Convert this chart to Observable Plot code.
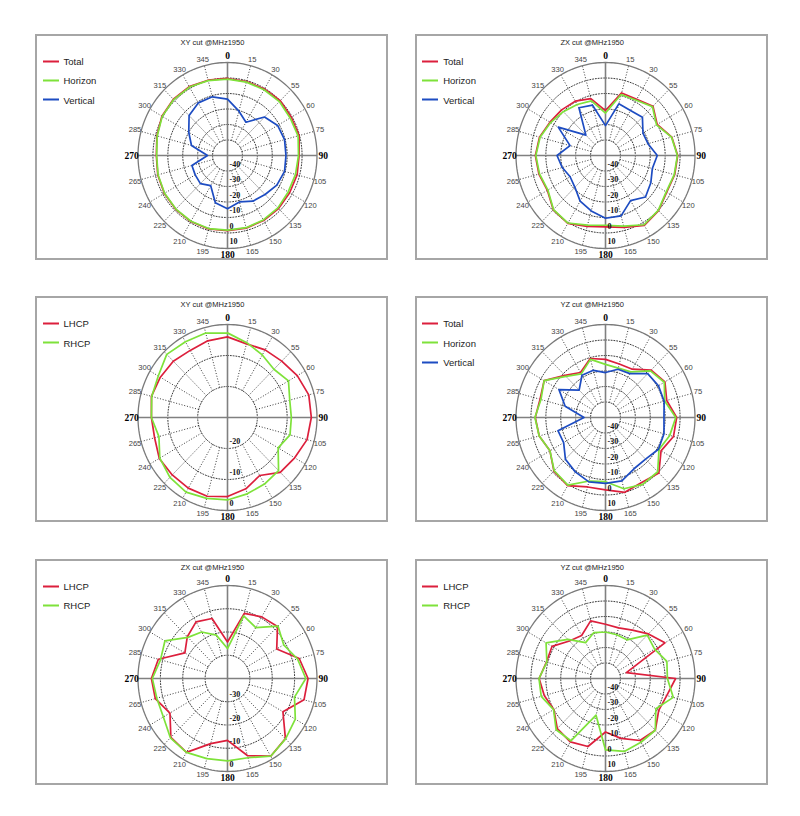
<!DOCTYPE html>
<html><head><meta charset="utf-8">
<script src="https://cdn.jsdelivr.net/npm/d3@7"></script>
<script src="https://cdn.jsdelivr.net/npm/@observablehq/plot@0.6"></script>
<style>
body{margin:0;background:#fff;}
#page{position:relative;width:800px;height:816px;font-family:"Liberation Sans",Arial,sans-serif;overflow:hidden;}
.box{position:absolute;width:353px;height:226px;box-sizing:border-box;border:2px solid #a6a6a6;}
.title{position:absolute;font-size:7.5px;color:#222;transform:translate(-50%,-50%);white-space:nowrap;}
.leg{position:absolute;font-size:9.5px;color:#222;display:flex;align-items:center;white-space:nowrap;transform:translateY(-50%);}
.leg i{display:inline-block;width:16px;height:2px;margin-right:5px;}
.plot{position:absolute;}
</style></head><body><div id="page"></div><script>
// ---- data (values in dB at every 15 degrees, 0..345) ----
const angles = [0,15,30,45,60,75,90,105,120,135,150,165,180,195,210,225,240,255,270,285,300,315,330,345];
const angleLabels = ["0","15","30","55","60","75","90","105","120","135","150","165","180","195","210","225","240","265","270","285","300","315","330","345"];

const xyTotal    = [-0.3,-0.6,-0.5,0,-0.6,-0.3,-2.0,-1.7,-1.9,-1.6,-1.6,-1.5,-1.5,-0.9,-0.8,-0.9,-1.1,-1.6,-2.3,-1.0,0.8,1.3,1.3,0.3];
const xyHorizon  = [-0.7,-1,-1,-0.8,-1.5,-1,-2.4,-2.8,-3,-2.2,-2,-1.8,-1.8,-1.2,-1,-1.1,-1.3,-1.8,-2.5,-1.2,0.5,1,1,0];
const xyVertical = [-13.6,-20.4,-25.2,-14.9,-11.2,-10.4,-10.8,-10.4,-11.8,-14.4,-16,-19,-15.7,-18.5,-27.5,-24.3,-25,-25.3,-36.6,-25,-20,-13.6,-10.8,-10.8];

const zxTotal    = [-21,-8.2,-8.2,-5,-10,-4,-1.6,-2,-2.6,0.3,2,-2,-4,-2.7,0.5,-0.5,-5,-3.8,-3,-4.2,-7,-8.4,-9.5,-12];
const zxHorizon  = [-22.6,-9.3,-8.8,-5.5,-10.5,-4.2,-1.8,-2.3,-3,0,1.6,-2.8,-5,-3.5,0.3,-0.7,-5.4,-4.2,-3.3,-4.6,-7.5,-10,-12,-13.5];
const zxVertical = [-30.7,-15.5,-16.5,-15,-21,-20.5,-15.3,-17.5,-14.9,-12.1,-16.4,-9.7,-9.5,-13,-16,-21,-22.6,-20,-17.5,-25.4,-13.4,-31.4,-14.4,-16.4];

const xyLHCP = [-4,-5.4,-4.8,-4.3,-3,-1.8,-1.9,-2.4,-4,-5,-8.4,-6.2,-4.5,-3.7,-3.7,-3.8,-3.6,-4.7,-4.5,-3.6,-4,-4.3,-5,-4.4];
const xyRHCP = [-2.7,-5,-6.7,-8,-6.4,-8.4,-8.6,-8.3,-10.4,-5.8,-5.2,-4.5,-3.4,-3,-2.2,-2.7,-3.8,-6.2,-4.5,-3.7,-3.2,-1.2,-1.8,-1.8];

const yzTotal    = [-12.5,-14.3,-14,-6.7,-4,-7.5,-2.3,-2.8,-7,0.6,-1.5,0,-3.3,-3.6,0.8,-1.1,-7,-4,-2.9,-4.6,-2.5,-11.6,-16.5,-10.6];
const yzHorizon  = [-15.7,-17,-16,-7.4,-4.5,-8.9,-2.9,-5.4,-8.6,-0.5,-0.2,-2.4,-8.6,-7.6,0.4,-1.4,-7,-4,-2.7,-5.2,-2.5,-12.5,-17.5,-11.2];
const yzVertical = [-21,-17.8,-17.3,-10,-9,-9.3,-10.8,-9.4,-9,-12,-11.8,-7.7,-7.5,-7,-9.5,-12,-17.6,-17,-35.6,-22,-14,-25,-18.5,-18.5];

const zxLHCP = [-24.3,-11,-9.4,-8.4,-14.6,-6.8,-4,-4.6,-11.4,-3.4,-1.4,-5.7,-13.4,-11,-3.3,-4.2,-10.3,-6.6,-6,-8,-18,-14.6,-11.9,-13.3];
const zxRHCP = [-27.1,-12.1,-14.7,-8.1,-11,-7.6,-5,-9,-5,-3.3,-1.4,-4.7,-4.6,-4.3,-3.3,-3.9,-6.9,-7.3,-6.4,-9,-7.7,-15,-16.9,-20.7];

const yzLHCP = [-15,-16.2,-14,-9.3,-4,-35.5,-3,-7.5,-8.8,-2.8,-3.8,-10,-15.5,-4.6,-2.8,-4.3,-10,-7.5,-5.5,-9,-8.6,-15.8,-18,-11.5];
const yzRHCP = [-20,-20.8,-21.2,-10.4,-12,-7.4,-8.5,-3,-11,-2.8,-2.5,-1.3,-3.9,-25.5,-3.6,-3.2,-9.8,-5.4,-5.4,-9.3,-4,-14.3,-23.3,-19.4];

const ringValuesA = [-40,-30,-20,-10,0,10];
const ringLabelsA = ["-40","-30","-20","-10","0","10"];
const ringValuesB = [-20,-10,0];
const ringLabelsB = ["-20","-10","0"];
const ringValuesC = [-30,-20,-10,0];
const ringLabelsC = ["-30","-20","-10","0"];

const RED = "#dc1f3c", GREEN = "#7ee23a", BLUE = "#1d4cc2";

const panels = [
  {title:"XY cut @MHz1950", col:0, row:0, min:-50, max:10, ringValues:ringValuesA, ringLabels:ringLabelsA,
   series:[{name:"Total",values:xyTotal,color:RED},{name:"Horizon",values:xyHorizon,color:GREEN},{name:"Vertical",values:xyVertical,color:BLUE}]},
  {title:"ZX cut @MHz1950", col:1, row:0, min:-50, max:10, ringValues:ringValuesA, ringLabels:ringLabelsA,
   series:[{name:"Total",values:zxTotal,color:RED},{name:"Horizon",values:zxHorizon,color:GREEN},{name:"Vertical",values:zxVertical,color:BLUE}]},
  {title:"XY cut @MHz1950", col:0, row:1, min:-30, max:0, ringValues:ringValuesB, ringLabels:ringLabelsB,
   series:[{name:"LHCP",values:xyLHCP,color:RED},{name:"RHCP",values:xyRHCP,color:GREEN}]},
  {title:"YZ cut @MHz1950", col:1, row:1, min:-50, max:10, ringValues:ringValuesA, ringLabels:ringLabelsA,
   series:[{name:"Total",values:yzTotal,color:RED},{name:"Horizon",values:yzHorizon,color:GREEN},{name:"Vertical",values:yzVertical,color:BLUE}]},
  {title:"ZX cut @MHz1950", col:0, row:2, min:-40, max:0, ringValues:ringValuesC, ringLabels:ringLabelsC,
   series:[{name:"LHCP",values:zxLHCP,color:RED},{name:"RHCP",values:zxRHCP,color:GREEN}]},
  {title:"YZ cut @MHz1950", col:1, row:2, min:-50, max:10, ringValues:ringValuesA, ringLabels:ringLabelsA,
   series:[{name:"LHCP",values:yzLHCP,color:RED},{name:"RHCP",values:yzRHCP,color:GREEN}]}
];

// ---- layout ----
const boxLeft = [35, 414.7], boxTop = [34, 296.3, 559];
const centerX = [226.5, 605], centerY = [154.7, 416.5, 678];
const RX = 89.5, RY = 93, W = 260, H = 250;
const page = document.getElementById("page");

function pt(a, rho){ const t = a*Math.PI/180; return {x: rho*Math.sin(t), y: rho*Math.cos(t)}; }

function polar(p){
  const span = p.max - p.min;
  const sx = span*(W/2)/RX, sy = span*(H/2)/RY;
  const circ = d3.range(0, 361, 2);
  const inner = p.ringValues.slice(0, -1);
  const ringRows = inner.flatMap(r => circ.map(a => ({ring:r, ...pt(a, r - p.min)})));
  const outerRows = circ.map(a => pt(a, span));
  const r0 = p.ringValues[0] - p.min;
  const spokes = angles.filter(a => a % 90 !== 0).map(a => { const s = pt(a, r0), e = pt(a, span); return {x1:s.x, y1:s.y, x2:e.x, y2:e.y}; });
  const axes = [0, 90].map(a => { const s = pt(a, -span), e = pt(a, span); return {x1:s.x, y1:s.y, x2:e.x, y2:e.y}; });
  const lbl = angles.map((a,i) => ({text:angleLabels[i], major:a%90===0, ...pt(a, span*1.07)}));
  const rl = p.ringValues.map((v,i) => ({text:p.ringLabels[i], x:0, y:-(v - p.min)}));
  const marks = [
    Plot.line(ringRows, {x:"x", y:"y", z:"ring", stroke:"#222", strokeWidth:0.9, strokeDasharray:"1,1.8"}),
    Plot.link(spokes, {x1:"x1", y1:"y1", x2:"x2", y2:"y2", stroke:"#222", strokeWidth:0.9, strokeDasharray:"1,1.8"}),
    Plot.line(outerRows, {x:"x", y:"y", stroke:"#7a7a7a", strokeWidth:1.3}),
    Plot.link(axes, {x1:"x1", y1:"y1", x2:"x2", y2:"y2", stroke:"#808080", strokeWidth:1.6})
  ];
  p.series.forEach(s => {
    const rows = [...angles, 360].map((a,i) => pt(a, Math.max(0, s.values[i % s.values.length] - p.min)));
    marks.push(Plot.line(rows, {x:"x", y:"y", stroke:s.color, strokeWidth:1.7, strokeLinejoin:"round"}));
  });
  marks.push(
    Plot.text(lbl.filter(d => !d.major), {x:"x", y:"y", text:"text", fill:"#444", fontSize:7.6}),
    Plot.text(lbl.filter(d => d.major), {x:"x", y:"y", text:"text", fill:"#000", fontSize:9.5, fontWeight:"bold", fontFamily:"Liberation Serif"}),
    Plot.text(rl, {x:"x", y:"y", text:"text", dx:2, dy:-7, textAnchor:"start", fill:"#111", fontSize:8, fontWeight:"bold", fontFamily:"Liberation Serif"})
  );
  return Plot.plot({
    width:W, height:H, margin:0,
    x:{domain:[-sx, sx], range:[0, W], axis:null},
    y:{domain:[-sy, sy], range:[H, 0], axis:null},
    style:{background:"transparent", overflow:"visible", fontFamily:"Liberation Sans"},
    marks
  });
}

panels.forEach(p => {
  const bl = boxLeft[p.col], bt = boxTop[p.row];
  const box = document.createElement("div");
  box.className = "box"; box.style.left = bl + "px"; box.style.top = bt + "px";
  page.appendChild(box);
  const svg = polar(p);
  svg.classList.add("plot");
  svg.style.left = (centerX[p.col] - W/2) + "px";
  svg.style.top = (centerY[p.row] - H/2) + "px";
  svg.style.position = "absolute";
  page.appendChild(svg);
  const t = document.createElement("div");
  t.className = "title"; t.textContent = p.title;
  t.style.left = (bl + 177.5) + "px"; t.style.top = (bt + 7.8) + "px";
  page.appendChild(t);
  p.series.forEach((s,i) => {
    const l = document.createElement("div");
    l.className = "leg";
    l.style.left = (bl + 7.5) + "px"; l.style.top = (bt + 27 + i*19.4) + "px";
    l.innerHTML = `<i style="background:${s.color}"></i>${s.name}`;
    page.appendChild(l);
  });
});
</script></body></html>
